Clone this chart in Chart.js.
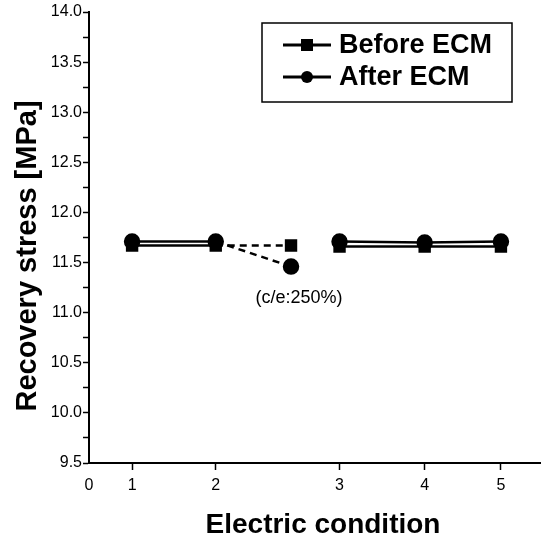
<!DOCTYPE html>
<html lang="en">
<head>
<meta charset="UTF-8">
<script src="https://cdn.jsdelivr.net/npm/chart.js@4/dist/chart.umd.min.js"></script>
<title>Recovery stress</title>
<style>
  html, body { margin: 0; padding: 0; background: #fff; }
  #wrap { width: 550px; height: 540px; }
</style>
</head>
<body>
<div id="wrap"><canvas id="chart"></canvas></div>
<script>
// electric conditions, placed on the axis where the figure puts them (not evenly spaced)
var condLabels = ['0', '1', '2', '3', '4', '5'];
var condTickX = [0, 0.525, 1.544, 3.052, 4.089, 5.018];
// measured points: 1, 2, the c/e 250% case, 3, 4, 5
var pointX = [0.525, 1.544, 2.461, 3.052, 4.089, 5.018];
var beforeECM = [11.67, 11.67, 11.67, 11.66, 11.66, 11.66];
var afterECM = [11.71, 11.71, 11.46, 11.71, 11.70, 11.71];
var specialIdx = 2;
var specialText = '(c/e:250%)';
var seriesNames = ['Before ECM', 'After ECM'];
var xTitle = 'Electric condition';
var yTitle = 'Recovery stress [MPa]';

var FONT = "'Liberation Sans', Arial, sans-serif";

function toXY(vals) {
  return vals.map(function (v, i) { return { x: pointX[i], y: v }; });
}

// dashed into the 250% point, nothing from it to condition 3
var seg = {
  borderDash: function (c) { return c.p1DataIndex === specialIdx ? [7, 5] : undefined; },
  borderColor: function (c) { return c.p0DataIndex === specialIdx ? 'rgba(0,0,0,0)' : undefined; }
};

var extras = {
  id: 'extras',
  afterDraw: function (chart) {
    var ctx = chart.ctx;
    ctx.save();
    // legend box
    ctx.strokeStyle = '#000';
    ctx.fillStyle = '#000';
    ctx.lineWidth = 1.5;
    ctx.strokeRect(262, 23, 250, 79);
    var rows = [45, 77];
    chart.data.datasets.forEach(function (ds, i) {
      var y = rows[i];
      ctx.lineWidth = 3;
      ctx.beginPath();
      ctx.moveTo(283, y);
      ctx.lineTo(331, y);
      ctx.stroke();
      if (ds.pointStyle === 'rect') {
        ctx.fillRect(301, y - 6, 12, 12);
      } else {
        ctx.beginPath();
        ctx.arc(307, y, 6, 0, Math.PI * 2);
        ctx.fill();
      }
      ctx.font = 'bold 27px ' + FONT;
      ctx.textBaseline = 'middle';
      ctx.textAlign = 'left';
      ctx.fillText(ds.label, 339, y + 1);
    });
    // note under the 250% point
    var xs = chart.scales.x, ys = chart.scales.y;
    ctx.font = '18px ' + FONT;
    ctx.textAlign = 'center';
    ctx.fillText(specialText, xs.getPixelForValue(pointX[specialIdx]) + 8,
      ys.getPixelForValue(afterECM[specialIdx]) + 31);
    // axis titles
    ctx.font = 'bold 28px ' + FONT;
    ctx.textBaseline = 'alphabetic';
    ctx.fillText(xTitle, 323, 533);
    ctx.translate(36, 256);
    ctx.rotate(-Math.PI / 2);
    ctx.font = 'bold 29px ' + FONT;
    ctx.fillText(yTitle, 0, 0);
    ctx.restore();
  }
};

new Chart(document.getElementById('chart'), {
  type: 'line',
  data: {
    datasets: [
      {
        label: seriesNames[0],
        data: toXY(beforeECM),
        borderColor: '#000',
        backgroundColor: '#000',
        borderWidth: 2.5,
        pointStyle: 'rect',
        pointRadius: 7,
        segment: seg
      },
      {
        label: seriesNames[1],
        data: toXY(afterECM),
        borderColor: '#000',
        backgroundColor: '#000',
        borderWidth: 2.5,
        pointStyle: 'circle',
        pointRadius: 7,
        segment: seg
      }
    ]
  },
  options: {
    responsive: true,
    maintainAspectRatio: false,
    animation: false,
    layout: { padding: { top: 12, right: 5, left: 0, bottom: 0 } },
    plugins: {
      legend: { display: false },
      tooltip: { enabled: false }
    },
    scales: {
      x: {
        type: 'linear',
        min: 0,
        max: 5.5,
        afterBuildTicks: function (s) {
          s.ticks = condTickX.map(function (v) { return { value: v }; });
        },
        afterFit: function (s) { s.height = 77; },
        ticks: {
          autoSkip: false,
          maxRotation: 0,
          color: '#000',
          padding: 6,
          font: { family: FONT, size: 16 },
          callback: function (v, i) { return condLabels[i]; }
        },
        grid: {
          drawOnChartArea: false,
          tickLength: 7,
          tickWidth: 1.5,
          tickColor: function (c) {
            return c.tick && c.tick.value === 0 ? 'rgba(0,0,0,0)' : '#000';
          }
        },
        border: { display: true, color: '#000', width: 2 }
      },
      y: {
        min: 9.5,
        max: 14,
        afterFit: function (s) { s.width = 89; },
        ticks: {
          stepSize: 0.25,
          autoSkip: false,
          color: '#000',
          padding: 1,
          font: { family: FONT, size: 16 },
          callback: function (v) {
            return Math.abs(v * 2 - Math.round(v * 2)) < 1e-6 ? v.toFixed(1) : '';
          }
        },
        grid: {
          drawOnChartArea: false,
          tickLength: 6,
          tickWidth: 1.5,
          tickColor: '#000'
        },
        border: { display: true, color: '#000', width: 2 }
      }
    }
  },
  plugins: [extras]
});
</script>
</body>
</html>
